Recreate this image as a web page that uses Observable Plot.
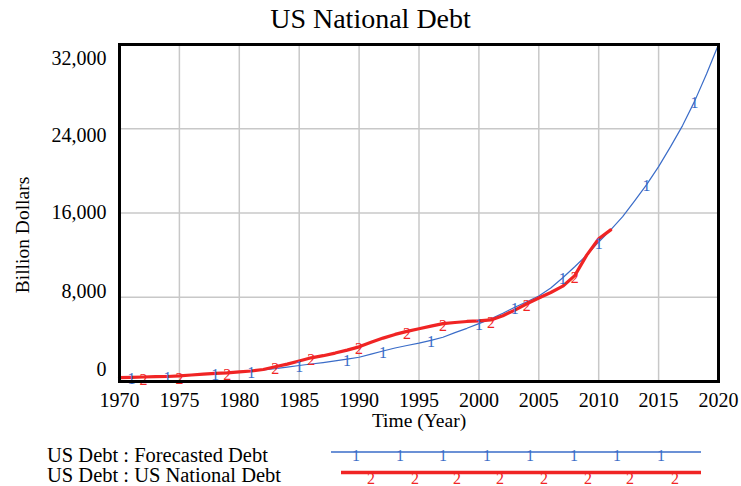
<!DOCTYPE html>
<html>
<head>
<meta charset="utf-8">
<script src="https://cdn.jsdelivr.net/npm/d3@7"></script>
<script src="https://cdn.jsdelivr.net/npm/@observablehq/plot@0.6"></script>
<style>
  body { margin: 0; background: #fff; }
  #wrap { position: relative; width: 741px; height: 486px; font-family: "Liberation Serif", "Times New Roman", serif; }
  #title { position: absolute; left: 0; width: 741px; top: 0; text-align: center; font-size: 28px; line-height: 38px; color: #000; }
  #legend { position: absolute; left: 0; top: 0; pointer-events: none; }
</style>
</head>
<body>
<div id="wrap">
  <div id="chart"></div>
  <div id="title">US National Debt</div>
  <svg id="legend" width="741" height="486"></svg>
</div>
<script>
// ---- data ----
const forecastYears = [1970,1971,1972,1973,1974,1975,1976,1977,1978,1979,1980,1981,1982,1983,1984,1985,1986,1987,1988,1989,1990,1991,1992,1993,1994,1995,1996,1997,1998,1999,2000,2001,2002,2003,2004,2005,2006,2007,2008,2009,2010,2011,2012,2013,2014,2015,2016,2017,2018,2019,2020];
const forecastValues = [371,400,430,460,500,550,620,700,790,860,930,1000,1100,1220,1370,1520,1660,1800,1960,2120,2300,2600,2900,3180,3420,3640,3900,4200,4640,5050,5500,5950,6480,7050,7580,8120,8880,9850,10900,12000,13250,14400,15650,17150,18700,20400,22300,24300,26600,29200,32000];
const debtYears = [1970,1971,1972,1973,1974,1975,1976,1977,1978,1979,1980,1981,1982,1983,1984,1985,1986,1987,1988,1989,1990,1991,1992,1993,1994,1995,1996,1997,1998,1999,2000,2001,2002,2003,2004,2005,2006,2007,2008,2009,2010,2011];
const debtValues = [371,398,427,458,475,533,620,699,772,827,908,998,1142,1400,1650,1950,2250,2450,2700,2980,3290,3720,4120,4470,4760,5010,5260,5490,5600,5700,5750,5850,6250,6780,7380,7930,8450,9050,10050,12000,13560,14400];
const forecastMarkerYears = [1971,1974,1978,1981,1985,1989,1992,1996,2000,2003,2007,2010,2014,2018];
const debtMarkerYears = [1972,1975,1979,1983,1986,1990,1994,1997,2001,2004,2008];
const xTicks = [1970,1975,1980,1985,1990,1995,2000,2005,2010,2015,2020];
const yTicks = [0,8000,16000,24000,32000];
const seriesNames = ["US Debt : Forecasted Debt", "US Debt : US National Debt"];
const seriesMarks = ["1", "2"];

// ---- style ----
const BLUE = "#3a6cc8";
const RED = "#f02424";
const FONT = "Liberation Serif, Times New Roman, serif";
const yLabelDy = [-12, -6, 0, 6.5, 14];

const forecast = forecastYears.map((y, i) => ({year: y, value: forecastValues[i]}));
const debt = debtYears.map((y, i) => ({year: y, value: debtValues[i]}));
const fMarks = forecastMarkerYears.map(y => ({year: y, value: forecastValues[forecastYears.indexOf(y)]}));
const dMarks = debtMarkerYears.map(y => ({year: y, value: debtValues[debtYears.indexOf(y)]}));

const fmt = d3.format(",");

const chart = Plot.plot({
  width: 741,
  height: 486,
  marginLeft: 119,
  marginRight: 23,
  marginTop: 44,
  marginBottom: 105,
  style: {fontFamily: FONT, fontSize: "20px", color: "#000", background: "#fff"},
  x: {domain: [1970, 2020]},
  y: {domain: [0, 32000]},
  marks: [
    Plot.gridX(xTicks, {stroke: "#c8c8c8", strokeOpacity: 1, strokeWidth: 1.5}),
    Plot.gridY(yTicks, {stroke: "#c8c8c8", strokeOpacity: 1, strokeWidth: 1.5}),
    Plot.axisX(xTicks, {tickSize: 0, tickPadding: 11, tickFormat: d => String(d), fontSize: 20, label: null}),
    ...yTicks.map((t, i) => Plot.axisY([t], {tickSize: 0, tickPadding: 13, tickFormat: fmt, fontSize: 20, dy: yLabelDy[i], label: null})),
    Plot.text(["Time (Year)"], {frameAnchor: "bottom", textAnchor: "middle", dy: 45, fontSize: 19.5, fill: "#000"}),
    Plot.text(["Billion Dollars"], {frameAnchor: "left", textAnchor: "middle", dx: -97, dy: 22, rotate: -90, fontSize: 19.5, fill: "#000"}),
    Plot.line(forecast, {x: "year", y: "value", stroke: BLUE, strokeWidth: 1.2}),
    Plot.line(debt, {x: "year", y: "value", stroke: RED, strokeWidth: 3.2}),
    Plot.text(fMarks, {x: "year", y: "value", text: () => seriesMarks[0], fill: BLUE, fontSize: 16, dy: 1.5}),
    Plot.text(dMarks, {x: "year", y: "value", text: () => seriesMarks[1], fill: RED, fontSize: 16, dy: 2.5}),
    Plot.frame({stroke: "#000", strokeWidth: 3})
  ]
});
document.getElementById("chart").appendChild(chart);

// ---- legend ----
const lg = d3.select("#legend");
const rows = [
  {name: seriesNames[0], color: BLUE, width: 1.5, x0: 331, ly: 452, ty: 462, mark: seriesMarks[0], mx: [356,400,443,487,530,574,617,661], my: 455},
  {name: seriesNames[1], color: RED, width: 3.5, x0: 341, ly: 472.5, ty: 482, mark: seriesMarks[1], mx: [371,415,457,500,544,588,630,675], my: 478}
];
rows.forEach(r => {
  lg.append("text").attr("x", 47).attr("y", r.ty).attr("font-family", FONT).attr("font-size", 20.5).attr("fill", "#000").text(r.name);
  lg.append("line").attr("x1", r.x0).attr("x2", 701).attr("y1", r.ly).attr("y2", r.ly).attr("stroke", r.color).attr("stroke-width", r.width);
  r.mx.forEach(x => {
    lg.append("text").attr("x", x).attr("y", r.my).attr("dy", "0.35em").attr("text-anchor", "middle")
      .attr("font-family", FONT).attr("font-size", 16).attr("fill", r.color).text(r.mark);
  });
});
</script>
</body>
</html>
